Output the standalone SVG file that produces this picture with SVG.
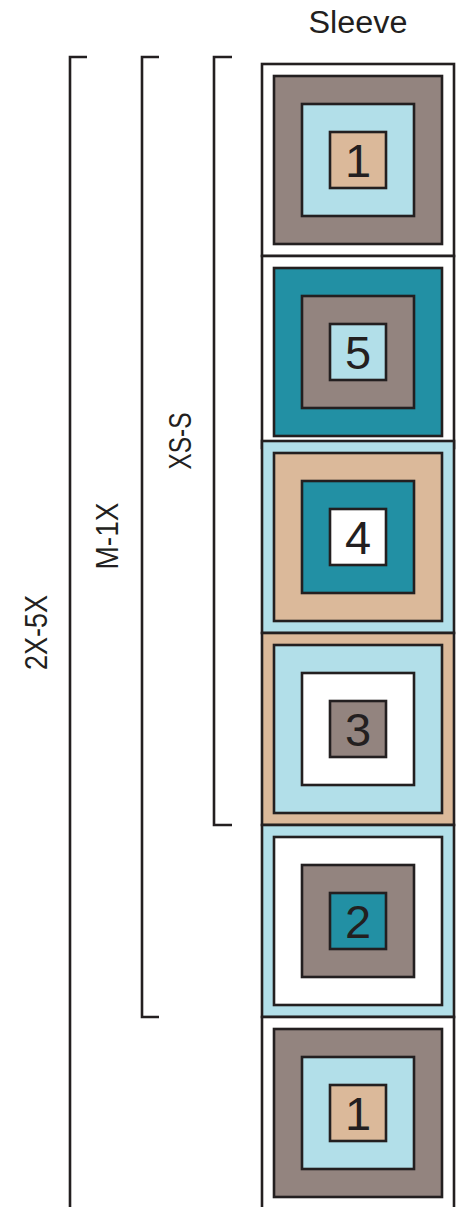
<svg xmlns="http://www.w3.org/2000/svg" width="464" height="1207" viewBox="0 0 464 1207">
<style>
rect{stroke:#231f20;stroke-width:2.6}
.w{fill:#ffffff}.g{fill:#93847f}.b{fill:#b2dfe9}.t{fill:#dbb99a}.c{fill:#2290a4}
.n{font-family:"Liberation Sans",Arial,sans-serif;font-size:47px;fill:#231f20;text-anchor:middle}
.l{font-family:"Liberation Sans",Arial,sans-serif;font-size:31px;fill:#231f20;text-anchor:middle}
.br{fill:none;stroke:#231f20;stroke-width:2.6}
</style>
<text class="l" x="358" y="33" font-size="33" textLength="99" lengthAdjust="spacingAndGlyphs">Sleeve</text>
<g id="block1a" transform="translate(262,64)">
<rect class="w" x="0" y="0" width="192" height="192"/>
<rect class="g" x="12" y="12" width="168" height="168"/>
<rect class="b" x="40" y="40" width="112" height="112"/>
<rect class="t" x="68" y="68" width="56" height="56"/>
<text class="n" x="96" y="113">1</text>
</g>
<g id="block5" transform="translate(262,256)">
<rect class="w" x="0" y="0" width="192" height="192"/>
<rect class="c" x="12" y="12" width="168" height="168"/>
<rect class="g" x="40" y="40" width="112" height="112"/>
<rect class="b" x="68" y="68" width="56" height="56"/>
<text class="n" x="96" y="113">5</text>
</g>
<g id="block4" transform="translate(262,441)">
<rect class="b" x="0" y="0" width="192" height="192"/>
<rect class="t" x="12" y="12" width="168" height="168"/>
<rect class="c" x="40" y="40" width="112" height="112"/>
<rect class="w" x="68" y="68" width="56" height="56"/>
<text class="n" x="96" y="113">4</text>
</g>
<g id="block3" transform="translate(262,633)">
<rect class="t" x="0" y="0" width="192" height="192"/>
<rect class="b" x="12" y="12" width="168" height="168"/>
<rect class="w" x="40" y="40" width="112" height="112"/>
<rect class="g" x="68" y="68" width="56" height="56"/>
<text class="n" x="96" y="113">3</text>
</g>
<g id="block2" transform="translate(262,825)">
<rect class="b" x="0" y="0" width="192" height="192"/>
<rect class="w" x="12" y="12" width="168" height="168"/>
<rect class="g" x="40" y="40" width="112" height="112"/>
<rect class="c" x="68" y="68" width="56" height="56"/>
<text class="n" x="96" y="113">2</text>
</g>
<g id="block1b" transform="translate(262,1017)">
<rect class="w" x="0" y="0" width="192" height="192"/>
<rect class="g" x="12" y="12" width="168" height="168"/>
<rect class="b" x="40" y="40" width="112" height="112"/>
<rect class="t" x="68" y="68" width="56" height="56"/>
<text class="n" x="96" y="113">1</text>
</g>
<g id="connectors">
<path class="br" d="M87,57 H70 V1207"/>
<path class="br" d="M159,57 H142 V1017 H159"/>
<path class="br" d="M232,57 H214 V825 H232"/>
</g>
<g id="label-xs-s"><text class="l" transform="translate(191,441) rotate(-90)" textLength="57" lengthAdjust="spacingAndGlyphs">XS-S</text></g>
<g id="label-m-1x"><text class="l" transform="translate(118,536) rotate(-90)" textLength="67" lengthAdjust="spacingAndGlyphs">M-1X</text></g>
<g id="label-2x-5x"><text class="l" transform="translate(46.5,632.5) rotate(-90)" textLength="75" lengthAdjust="spacingAndGlyphs">2X-5X</text></g>
</svg>
